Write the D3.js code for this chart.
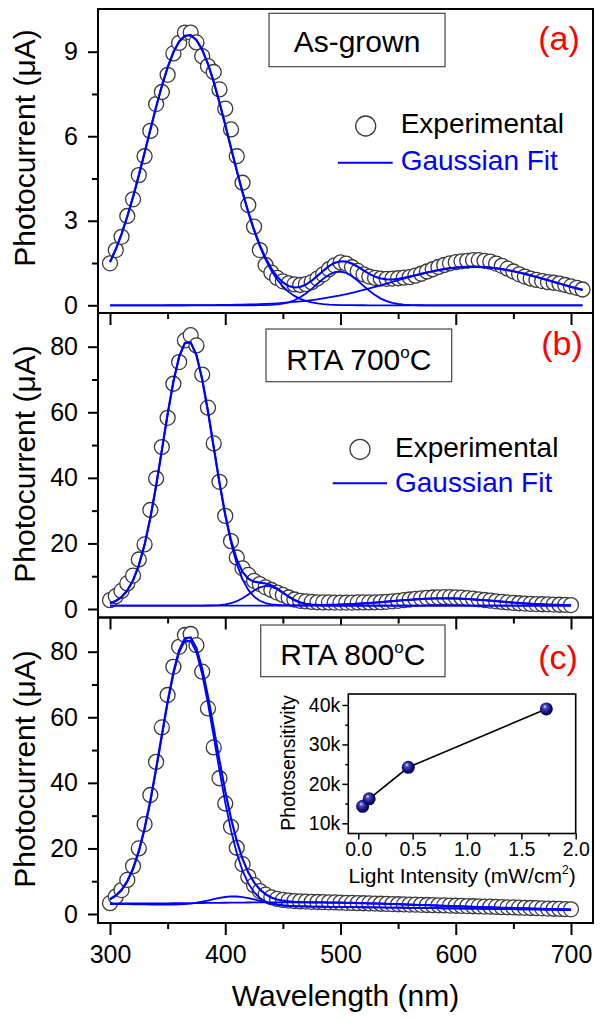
<!DOCTYPE html>
<html><head><meta charset="utf-8">
<script src="https://cdnjs.cloudflare.com/ajax/libs/d3/7.8.5/d3.min.js"></script>
<style>
body{margin:0;background:#fff}
text{font-family:"Liberation Sans",Arial,sans-serif;fill:#000}
</style>
</head><body>
<svg id="chart" width="600" height="1019"></svg>
<script>
// ---------------- DATA ----------------
const wavelengthA = [300,305,310,315,320,325,330,335,340,345,350,355,360,365,370,375,380,385,390,395,
  400,405,410,415,420,425,430,435,440,445,450,455,460,465,470,475,480,485,490,495,
  500,505,510,515,520,525,530,535,540,545,550,555,560,565,570,575,580,585,590,595,
  600,605,610,615,620,625,630,635,640,645,650,655,660,665,670,675,680,685,690,695,
  700,705,710];
const photocurrentA = [1.49,1.96,2.43,3.17,3.76,4.62,5.29,6.19,7.14,7.57,8.18,8.94,9.31,9.68,9.68,9.33,8.84,8.49,8.28,7.66,
  6.98,6.24,5.29,4.35,3.56,2.79,1.96,1.43,1.16,0.97,0.85,0.78,0.74,0.72,0.75,0.82,0.95,1.10,1.28,1.42,
  1.52,1.48,1.35,1.22,1.10,1.02,0.97,0.95,0.94,0.95,0.96,0.98,1.00,1.05,1.12,1.20,1.28,1.36,1.43,1.49,
  1.53,1.56,1.58,1.60,1.60,1.58,1.55,1.48,1.40,1.30,1.20,1.10,1.02,0.95,0.90,0.86,0.82,0.80,0.77,0.72,
  0.67,0.62,0.56];

const wavelengthBC = [300,305,310,315,320,325,330,335,340,345,350,355,360,365,370,375,380,385,390,395,
  400,405,410,415,420,425,430,435,440,445,450,455,460,465,470,475,480,485,490,495,
  500,505,510,515,520,525,530,535,540,545,550,555,560,565,570,575,580,585,590,595,
  600,605,610,615,620,625,630,635,640,645,650,655,660,665,670,675,680,685,690,695,700];
const photocurrentB = [2.7,3.9,5.5,7.8,10.2,15.1,19.7,30.2,39.8,49.4,58.3,68.7,75.3,81.9,83.5,80.4,71.5,61.4,50.5,38.8,
  28.4,20.7,15.7,12.4,10.4,8.6,7.6,6.6,5.8,5.0,4.3,3.5,2.9,2.5,2.3,2.15,2.05,2.0,2.0,1.95,
  1.95,1.95,1.95,2.0,2.0,2.0,2.05,2.1,2.2,2.35,2.5,2.7,2.9,3.1,3.25,3.4,3.5,3.55,3.6,3.6,
  3.55,3.45,3.3,3.15,2.95,2.75,2.55,2.35,2.15,2.0,1.85,1.75,1.65,1.55,1.5,1.45,1.4,1.35,1.3,1.25,1.2];
const photocurrentC = [3.3,5.3,7.3,10.4,14.6,20.0,27.4,36.3,46.4,56.9,66.8,75.4,81.5,85.1,85.4,82.0,73.9,62.7,50.8,41.4,
  33.7,26.6,20.2,15.2,11.4,8.8,7.0,5.9,5.1,4.6,4.3,4.1,3.95,3.85,3.78,3.72,3.66,3.6,3.56,3.52,
  3.47,3.42,3.38,3.32,3.28,3.22,3.17,3.12,3.07,3.02,2.98,2.93,2.88,2.84,2.79,2.75,2.7,2.66,2.62,2.57,
  2.52,2.47,2.42,2.37,2.32,2.27,2.22,2.16,2.1,2.05,2.0,1.94,1.88,1.83,1.77,1.72,1.66,1.6,1.54,1.48,1.42];

// Gaussian fit parameters (centre nm, width nm, height uA, offset at 300/700 nm)
const fitCentersA = [368, 499, 615];
const fitWidthsA  = [35.5, 20, 70];
const fitHeightsA = [9.6, 1.2, 1.37];
const fitOffsetA  = [0, 0];
const fitCentersB = [367.7, 436, 590];
const fitWidthsB  = [22, 15, 45];
const fitHeightsB = [80.7, 6.0, 2.2];
const fitOffsetB  = [1.05, 1.05];
const fitCentersC = [367.5, 408, 490];
const fitWidthsC  = [23.6, 20, 95];
const fitHeightsC = [81, 2.8, 1.3];
const fitOffsetC  = [3.05, 1.25];

const ticksA = [0, 3, 6, 9], minorA = [1.5, 4.5, 7.5];
const ticksBC = [0, 20, 40, 60, 80], minorBC = [10, 30, 50, 70];
const ticksX = [300, 400, 500, 600, 700], minorX = [350, 450, 550, 650];

const sampleLabels = ["As-grown", "RTA 700", "RTA 800"];
const panelLetters = ["(a)", "(b)", "(c)"];

// inset
const lightIntensity = [0.04, 0.10, 0.46, 1.73];
const photosensitivity = [14300, 16200, 24200, 39000];
const insetTicksX = [0.0, 0.5, 1.0, 1.5, 2.0], insetMinorX = [0.25, 0.75, 1.25, 1.75];
const insetTicksY = [10000, 20000, 30000, 40000], insetMinorY = [15000, 25000, 35000];

// ---------------- DRAW ----------------
const svg = d3.select("#chart");
const X0 = 98, X1 = 593;
const x = d3.scaleLinear().domain([300, 700]).range([110, 571]);
const BLUE = "#0000ff";

const defs = svg.append("defs");
const grad = defs.append("radialGradient").attr("id", "sph").attr("cx", "45%").attr("cy", "45%").attr("r", "60%").attr("fx", "38%").attr("fy", "30%");
grad.append("stop").attr("offset", "0%").attr("stop-color", "#e8e8ff");
grad.append("stop").attr("offset", "25%").attr("stop-color", "#4a4ab8");
grad.append("stop").attr("offset", "70%").attr("stop-color", "#0b0b78");
grad.append("stop").attr("offset", "100%").attr("stop-color", "#02023a");

const panels = [
  {top: 9, bottom: 313, y: d3.scaleLinear().domain([0, 9]).range([305.3, 51.7]), major: ticksA, minor: minorA,
   wl: wavelengthA, vals: photocurrentA, fc: fitCentersA, fw: fitWidthsA, fh: fitHeightsA, fo: fitOffsetA,
   titleY: 148, box: [269, 13.3, 176, 53.4], textY: 51.5, letterPos: [559, 50]},
  {top: 313, bottom: 617.5, y: d3.scaleLinear().domain([0, 80]).range([609, 346.7]), major: ticksBC, minor: minorBC,
   wl: wavelengthBC, vals: photocurrentB, fc: fitCentersB, fw: fitWidthsB, fh: fitHeightsB, fo: fitOffsetB,
   titleY: 464, box: [266, 329, 185.7, 52.7], textY: 370, letterPos: [562, 355]},
  {top: 617.5, bottom: 923, y: d3.scaleLinear().domain([0, 80]).range([914, 651.7]), major: ticksBC, minor: minorBC,
   wl: wavelengthBC, vals: photocurrentC, fc: fitCentersC, fw: fitWidthsC, fh: fitHeightsC, fo: fitOffsetC,
   titleY: 769, box: [260.7, 625, 184.3, 51.7], textY: 665, letterPos: [558, 669]}
];

function styleAxis(g, w) {
  g.select(".domain").remove();
  g.selectAll(".tick line").attr("stroke", "#000").attr("stroke-width", w);
}

panels.forEach((p, i) => {
  const g = svg.append("g");
  const y = p.y;
  const offset = d3.scaleLinear().domain([300, 700]).range(p.fo);
  const comp = (k, w) => p.fh[k] * Math.exp(-((w - p.fc[k]) ** 2) / (2 * p.fw[k] ** 2));

  g.append("g").selectAll("circle").data(p.wl.map((w, j) => [w, p.vals[j]])).join("circle")
    .attr("cx", d => x(d[0])).attr("cy", d => y(d[1])).attr("r", 7.5)
    .attr("fill", "#fff").attr("stroke", "#3a3a3a").attr("stroke-width", 1.3);

  const line = d3.line().x(d => x(d[0])).y(d => y(d[1]));
  p.fc.forEach((c, k) => {
    g.append("path").datum(p.wl.map(w => [w, offset(w) + comp(k, w)]))
      .attr("d", line).attr("fill", "none").attr("stroke", BLUE).attr("stroke-width", 1.8);
  });
  g.append("path").datum(p.wl.map(w => [w, offset(w) + d3.sum(p.fc, (c, k) => comp(k, w))]))
    .attr("d", line).attr("fill", "none").attr("stroke", BLUE).attr("stroke-width", 2.2);

  g.append("g").attr("transform", `translate(${X0},0)`)
    .call(d3.axisLeft(y).tickValues(p.major).tickSize(10).tickPadding(10).tickFormat(d3.format("d")))
    .call(s => styleAxis(s, 2))
    .selectAll("text").attr("font-size", 25).attr("font-family", "Liberation Sans, Arial, sans-serif");
  g.append("g").attr("transform", `translate(${X0},0)`)
    .call(d3.axisLeft(y).tickValues(p.minor).tickSize(6).tickFormat(""))
    .call(s => styleAxis(s, 2));

  const xa = g.append("g").attr("transform", `translate(0,${p.bottom})`)
    .call(d3.axisBottom(x).tickValues(ticksX).tickSize(12).tickPadding(10).tickFormat(i === 2 ? d3.format("d") : ""))
    .call(s => styleAxis(s, 2));
  xa.selectAll("text").attr("font-size", 25).attr("font-family", "Liberation Sans, Arial, sans-serif");
  g.append("g").attr("transform", `translate(0,${p.bottom})`)
    .call(d3.axisBottom(x).tickValues(minorX).tickSize(6).tickFormat(""))
    .call(s => styleAxis(s, 2));

  g.append("rect").attr("x", X0).attr("y", p.top).attr("width", X1 - X0).attr("height", p.bottom - p.top)
    .attr("fill", "none").attr("stroke", "#000").attr("stroke-width", 2);

  g.append("text").attr("transform", `translate(35,${p.titleY}) rotate(-90)`)
    .attr("text-anchor", "middle").attr("font-size", 30).text("Photocurrent (\u03BCA)");

  g.append("rect").attr("x", p.box[0]).attr("y", p.box[1]).attr("width", p.box[2]).attr("height", p.box[3])
    .attr("fill", "#fff").attr("stroke", "#444").attr("stroke-width", 1.2);
  const t = g.append("text").attr("x", p.box[0] + p.box[2] / 2).attr("y", p.textY)
    .attr("text-anchor", "middle").attr("font-size", 30);
  if (i === 0) t.text(sampleLabels[0]);
  else {
    t.append("tspan").text(sampleLabels[i]);
    t.append("tspan").attr("font-size", 17).attr("dy", -12).text("o");
    t.append("tspan").attr("dy", 12).text("C");
  }
  g.append("text").attr("x", p.letterPos[0]).attr("y", p.letterPos[1]).attr("text-anchor", "middle")
    .attr("font-size", 34).style("fill", "#ff0000").text(panelLetters[i]);
});

[[365.7, 126, 400.7, 133.3, 338, 392.7, 162.7, 170], [360, 449.3, 395, 456.7, 332.7, 387, 483.3, 491.7]].forEach(L => {
  svg.append("circle").attr("cx", L[0]).attr("cy", L[1]).attr("r", 10).attr("fill", "#fff")
    .attr("stroke", "#3a3a3a").attr("stroke-width", 1.3);
  svg.append("text").attr("x", L[2]).attr("y", L[3]).attr("font-size", 28).text("Experimental");
  svg.append("line").attr("x1", L[4]).attr("x2", L[5]).attr("y1", L[6]).attr("y2", L[6])
    .attr("stroke", BLUE).attr("stroke-width", 2);
  svg.append("text").attr("x", L[2]).attr("y", L[7]).attr("font-size", 28).style("fill", BLUE).text("Gaussian Fit");
});

svg.append("text").attr("x", 345.5).attr("y", 1006).attr("text-anchor", "middle").attr("font-size", 30).text("Wavelength (nm)");

// ---------------- INSET ----------------
const ix = d3.scaleLinear().domain([0, 2]).range([358.3, 575.7]);
const iy = d3.scaleLinear().domain([10000, 40000]).range([823.3, 705]);
const IL = 348.3, IR = 575.7, IT = 694, IB = 833.5;
const ig = svg.append("g");
ig.append("rect").attr("x", IL).attr("y", IT).attr("width", IR - IL).attr("height", IB - IT)
  .attr("fill", "#fff").attr("stroke", "#000").attr("stroke-width", 1.6);
ig.append("g").attr("transform", `translate(${IL},0)`)
  .call(d3.axisLeft(iy).tickValues(insetTicksY).tickSize(6).tickPadding(2).tickFormat(d => d / 1000 + "k"))
  .call(s => styleAxis(s, 1.5))
  .selectAll("text").attr("font-size", 19.5).attr("font-family", "Liberation Sans, Arial, sans-serif");
ig.append("g").attr("transform", `translate(${IL},0)`)
  .call(d3.axisLeft(iy).tickValues(insetMinorY).tickSize(3).tickFormat(""))
  .call(s => styleAxis(s, 1.5));
ig.append("g").attr("transform", `translate(0,${IB})`)
  .call(d3.axisBottom(ix).tickValues(insetTicksX).tickSize(6).tickPadding(3).tickFormat(d3.format(".1f")))
  .call(s => styleAxis(s, 1.5))
  .selectAll("text").attr("font-size", 19.5).attr("font-family", "Liberation Sans, Arial, sans-serif");
ig.append("g").attr("transform", `translate(0,${IB})`)
  .call(d3.axisBottom(ix).tickValues(insetMinorX).tickSize(3).tickFormat(""))
  .call(s => styleAxis(s, 1.5));
const ipts = lightIntensity.map((v, j) => [v, photosensitivity[j]]);
ig.append("path").datum(ipts).attr("d", d3.line().x(d => ix(d[0])).y(d => iy(d[1])))
  .attr("fill", "none").attr("stroke", "#000").attr("stroke-width", 1.6);
ig.selectAll(".sph").data(ipts).join("circle").attr("class", "sph")
  .attr("cx", d => ix(d[0])).attr("cy", d => iy(d[1])).attr("r", 6.5).attr("fill", "url(#sph)");
ig.append("text").attr("transform", "translate(295,763) rotate(-90)").attr("text-anchor", "middle")
  .attr("font-size", 19.5).text("Photosensitivity");
const lt = ig.append("text").attr("x", 462).attr("y", 883).attr("text-anchor", "middle").attr("font-size", 21);
lt.append("tspan").text("Light Intensity (mW/cm");
lt.append("tspan").attr("font-size", 12).attr("dy", -9).text("2");
lt.append("tspan").attr("dy", 9).text(")");
</script>
</body></html>
